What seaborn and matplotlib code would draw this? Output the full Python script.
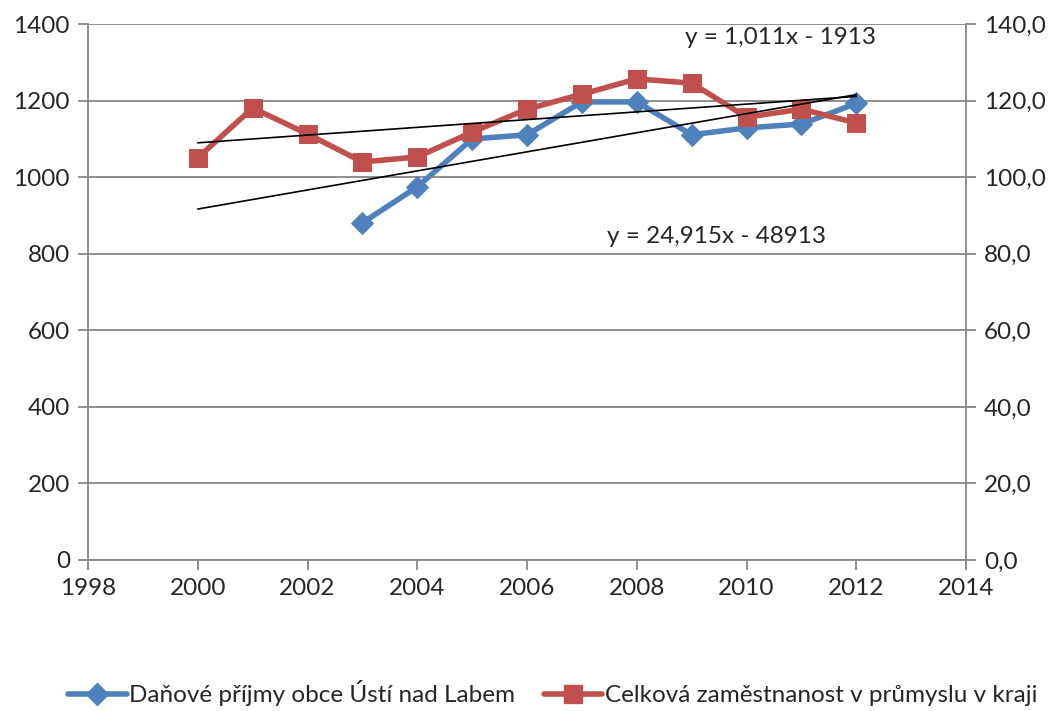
import numpy as np
import pandas as pd
import matplotlib
matplotlib.use("Agg")
import matplotlib.pyplot as plt
import seaborn as sns
from matplotlib.ticker import FuncFormatter, MultipleLocator
from matplotlib.lines import Line2D

# data
years_blue = [2003, 2004, 2005, 2006, 2007, 2008, 2009, 2010, 2011, 2012]
prijmy = [881, 975, 1100, 1111, 1197, 1197, 1111, 1129, 1139, 1193]

years_red = [2000, 2001, 2002, 2003, 2004, 2005, 2006, 2007, 2008, 2009, 2010, 2011, 2012]
zamestnanost = [105.1, 118.1, 111.3, 104.0, 105.3, 111.8, 117.8, 121.7, 125.7, 124.6, 115.7, 117.8, 114.2]

# trendline coefficients as printed on the chart
trend_blue = (24.915, -48913)
trend_red = (1.011, -1913)
trend_years = [2000, 2012]

label_blue = "Daňové příjmy obce Ústí nad Labem"
label_red = "Celková zaměstnanost v průmyslu v kraji"

blue = "#4F81BD"
red = "#C0504D"
grid_col = "#868686"
fs = 17.5

sns.set_style("white")
plt.rcParams['font.family'] = ['Lato', 'DejaVu Sans']
plt.rcParams['font.size'] = fs

fig, ax = plt.subplots(figsize=(10.57, 7.11), dpi=100)
fig.subplots_adjust(left=0.0833, right=0.914, top=0.966, bottom=0.2124)
ax2 = ax.twinx()

df_b = pd.DataFrame({"rok": years_blue, "val": prijmy})
df_r = pd.DataFrame({"rok": years_red, "val": zamestnanost})

sns.lineplot(data=df_b, x="rok", y="val", ax=ax, color=blue, lw=4, marker="D",
             markersize=11, markeredgecolor=blue, legend=False, zorder=3)
sns.lineplot(data=df_r, x="rok", y="val", ax=ax2, color=red, lw=4, marker="s",
             markersize=13, markeredgecolor=red, legend=False, zorder=3)

# trendlines (blue one drawn on the secondary axis, scale 1400 <-> 140)
ty = np.array(trend_years)
ax2.plot(ty, (trend_blue[0] * ty + trend_blue[1]) / 10, color="black", lw=1.2, zorder=4)
ax2.plot(ty, trend_red[0] * ty + trend_red[1], color="black", lw=1.2, zorder=4)

ax.set_xlim(1998, 2014)
ax.set_ylim(0, 1400)
ax2.set_ylim(0, 140)
ax.xaxis.set_major_locator(MultipleLocator(2))
ax.yaxis.set_major_locator(MultipleLocator(200))
ax2.yaxis.set_major_locator(MultipleLocator(20))
ax2.yaxis.set_major_formatter(FuncFormatter(lambda v, p: f"{v:.1f}".replace(".", ",")))
ax.set_xlabel("")
ax.set_ylabel("")
ax2.set_ylabel("")

ax.yaxis.grid(True, color=grid_col, lw=1.3)
ax.set_axisbelow(True)
for a in (ax, ax2):
    for s in a.spines.values():
        s.set_visible(False)
ax.spines["left"].set_visible(True)
ax.spines["bottom"].set_visible(True)
ax2.spines["right"].set_visible(True)
for s in (ax.spines["left"], ax.spines["bottom"], ax2.spines["right"]):
    s.set_color(grid_col)
    s.set_linewidth(1.3)

ax.tick_params(axis="both", direction="out", length=7, width=1.3, color=grid_col,
               left=True, bottom=True, pad=6, labelsize=fs)
ax2.tick_params(axis="y", direction="out", length=7, width=1.3, color=grid_col,
                right=True, pad=6, labelsize=fs)

ax2.text(2008.87, 136.5, "y = 1,011x - 1913", fontsize=fs, va="center")
ax2.text(2007.45, 84.5, "y = 24,915x - 48913", fontsize=fs, va="center")

handles = [
    Line2D([], [], color=blue, lw=4, marker="D", markersize=11, markeredgecolor=blue),
    Line2D([], [], color=red, lw=4, marker="s", markersize=13, markeredgecolor=red),
]
fig.legend(handles, [label_blue, label_red], loc="center", bbox_to_anchor=(0.523, 0.025),
           ncol=2, frameon=False, fontsize=fs, handlelength=2.4, handletextpad=0.1,
           columnspacing=1.2)

fig.savefig("out.png", dpi=100)
